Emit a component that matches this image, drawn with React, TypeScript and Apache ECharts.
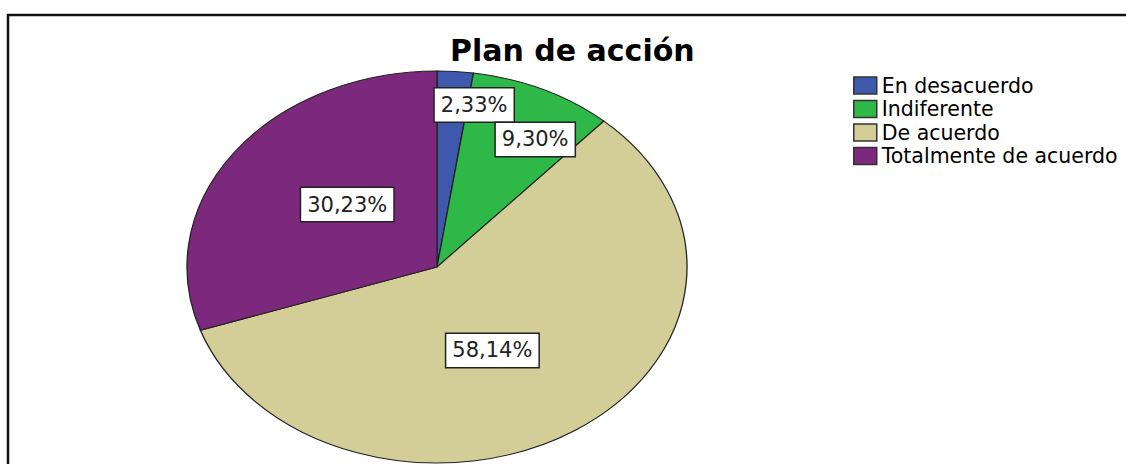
import React, { useEffect, useRef } from "react";
import * as echarts from "echarts";

const chartTitle = "Plan de acción";
const categories = ["En desacuerdo", "Indiferente", "De acuerdo", "Totalmente de acuerdo"];
const percentages = [2.33, 9.3, 58.14, 30.23];
const colors = ["#3E58AC", "#2EB848", "#D3CE97", "#7C287D"];

export default function App() {
  const ref = useRef<HTMLDivElement>(null);

  useEffect(() => {
    const chart = echarts.init(ref.current!, null, { renderer: "svg" });
    const total = percentages.reduce((a, b) => a + b, 0);
    const starts: number[] = [];
    let acc = 0;
    percentages.forEach((v) => {
      starts.push(acc);
      acc += v;
    });
    const CX = 437;
    const CY = 267;
    const RX = 250;
    const RY = 196;
    const LABEL_SHIFT = (6 * Math.PI) / 180;

    const series = categories.map((name, i) => ({
      type: "custom",
      name,
      coordinateSystem: "none",
      data: [[percentages[i]]],
      itemStyle: { color: colors[i] },
      renderItem: (params: any, api: any) => {
        const v = api.value(0) as number;
        const a0 = -Math.PI / 2 + (2 * Math.PI * starts[i]) / total;
        const a1 = a0 + (2 * Math.PI * v) / total;
        const mid = (a0 + a1) / 2 + LABEL_SHIFT;
        const share = v / total;
        const f = share < 0.05 ? 0.84 : share < 0.15 ? 0.76 : 0.48;
        const lx = CX + RX * f * Math.cos(mid);
        const ly = CY + RY * f * Math.sin(mid);
        const label = v.toFixed(2).replace(".", ",") + "%";
        return {
          type: "group",
          children: [
            {
              type: "sector",
              x: CX,
              y: CY,
              scaleY: RY / RX,
              shape: { cx: 0, cy: 0, r: RX, r0: 0, startAngle: a0, endAngle: a1, clockwise: true },
              style: { fill: api.visual("color"), stroke: "#222", lineWidth: 1.3, strokeNoScale: true },
            },
            {
              type: "text",
              x: lx,
              y: ly,
              z2: 10,
              style: {
                text: label,
                fontSize: 21,
                fontFamily: "DejaVu Sans",
                fill: "#222",
                align: "center",
                verticalAlign: "middle",
                backgroundColor: "#fff",
                borderColor: "#222",
                borderWidth: 1.5,
                padding: [6, 6],
              },
            },
          ],
        };
      },
    }));

    chart.setOption({
      animation: false,
      backgroundColor: "#fff",
      title: {
        text: chartTitle,
        left: 450,
        top: 35,
        padding: 0,
        textStyle: { fontFamily: "DejaVu Sans", fontWeight: "bold", fontSize: 30, color: "#000" },
      },
      legend: {
        orient: "vertical",
        left: 853,
        top: 75,
        padding: 0,
        icon: "rect",
        itemWidth: 23,
        itemHeight: 17,
        itemGap: 2.5,
        selectedMode: false,
        data: categories,
        itemStyle: { borderColor: "#333", borderWidth: 1.5 },
        textStyle: { fontFamily: "DejaVu Sans", fontSize: 20.5, color: "#000", lineHeight: 17 },
      },
      graphic: [
        {
          type: "rect",
          silent: true,
          shape: { x: 8, y: 15, width: 1400, height: 700 },
          style: { fill: "none", stroke: "#111", lineWidth: 2.5 },
        },
      ],
      series,
    });

    return () => chart.dispose();
  }, []);

  return (
    <div
      ref={ref}
      style={{ position: "fixed", left: 0, top: 0, width: 1126, height: 464 }}
    />
  );
}
